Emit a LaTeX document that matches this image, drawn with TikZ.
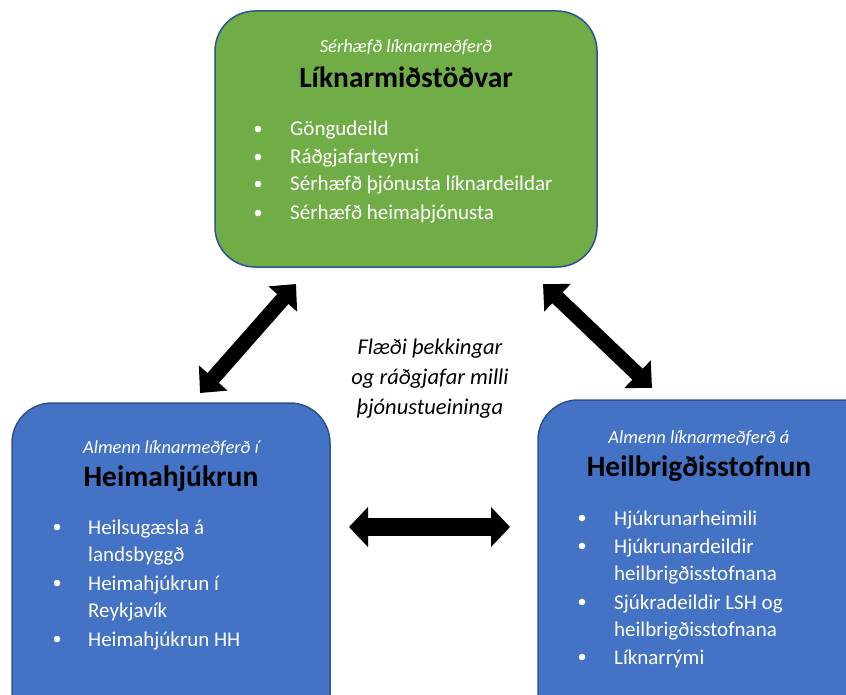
\documentclass[tikz,border=0pt]{standalone}
\usepackage{fontspec}
\setmainfont{Carlito}
\usetikzlibrary{arrows.meta}
\definecolor{boxgreen}{HTML}{70AD47}
\definecolor{boxblue}{HTML}{4472C4}
\definecolor{boxedge}{HTML}{2F528F}
\tikzset{
	unitbox/.style={draw=boxedge, line width=1.5pt, rounded corners=40pt, inner sep=0pt},
	subtitle/.style={text=white, anchor=base, font=\fontsize{18.5}{22}\selectfont\itshape},
	heading/.style={text=black, anchor=base, font=\fontsize{29.5}{34}\selectfont\bfseries},
	item/.style={text=white, anchor=base west, inner sep=0pt, font=\fontsize{21}{25}\selectfont},
	flowtext/.style={anchor=base, font=\fontsize{22.5}{30}\selectfont\itshape},
	flow/.style={line width=15pt, {Triangle[length=20pt,width=37pt]}-{Triangle[length=20pt,width=37pt]}}
}
\begin{document}
\begin{tikzpicture}[x=1pt, y=-1pt, line join=round]
		\useasboundingbox (0,0) rectangle (846,695);
		\clip (0,0) rectangle (846,695);
		% the three service units
		\node[unitbox, fill=boxgreen, minimum width=382pt, minimum height=256pt] (midst) at (406,139) {};
		\node[unitbox, fill=boxblue, minimum width=318pt, minimum height=360pt] (heima) at (171,583) {};
		\node[unitbox, fill=boxblue, minimum width=360pt, minimum height=360pt] (stofn) at (718,580) {};
		\node[subtitle] (midst-sub) at (406,53) {Sérhæfð líknarmeðferð};
		\node[heading] (midst-head) at (406,87.5) {Líknarmiðstöðvar};
		\node[subtitle] (heima-sub) at (171,453) {Almenn líknarmeðferð í};
		\node[heading] (heima-head) at (171,486.5) {Heimahjúkrun};
		\node[subtitle] (stofn-sub) at (699,443) {Almenn líknarmeðferð á};
		\node[heading] (stofn-head) at (699,476.5) {Heilbrigðisstofnun};
		% bullet lists
		\foreach \y/\t in {129/Göngudeild,157/Ráðgjafarteymi,184/Sérhæfð þjónusta líknardeildar,213/Sérhæfð heimaþjónusta}{
			\fill[white] (258,\y) circle (3.3pt);
			\node[item] (m\y) at (290,\y+7) {\t};}
		\foreach \y/\b/\t in {527/1/Heilsugæsla á,554/0/landsbyggð,583/1/Heimahjúkrun í,610/0/Reykjavík,639/1/Heimahjúkrun HH}{
			\ifnum\b=1 \fill[white] (57,\y) circle (3.3pt); \fi
			\node[item] (h\y) at (88,\y+7) {\t};}
		\foreach \y/\b/\t in {518/1/Hjúkrunarheimili,546/1/Hjúkrunardeildir,573/0/heilbrigðisstofnana,602/1/Sjúkradeildir LSH og,629/0/heilbrigðisstofnana,657/1/Líknarrými}{
			\ifnum\b=1 \fill[white] (582,\y) circle (3.3pt); \fi
			\node[item] (s\y) at (614,\y+7) {\t};}
		% flow between the units
		\path (200,393) coordinate (heima-up) (296,284) coordinate (midst-l)
		(543,284) coordinate (midst-r) (652,388) coordinate (stofn-up)
		(349,527) coordinate (heima-r) (510,527) coordinate (stofn-l);
		\draw[flow] (heima-up)--(midst-l);
		\draw[flow] (midst-r)--(stofn-up);
		\draw[flow, line width=18pt, {Triangle[length=19pt,width=39pt]}-{Triangle[length=19pt,width=39pt]}] (heima-r)--(stofn-l);
		\node[flowtext] (flow1) at (430,354) {Flæði þekkingar};
		\node[flowtext] (flow2) at (430,384) {og ráðgjafar milli};
		\node[flowtext] (flow3) at (430,414) {þjónustueininga};
\end{tikzpicture}
\end{document}
